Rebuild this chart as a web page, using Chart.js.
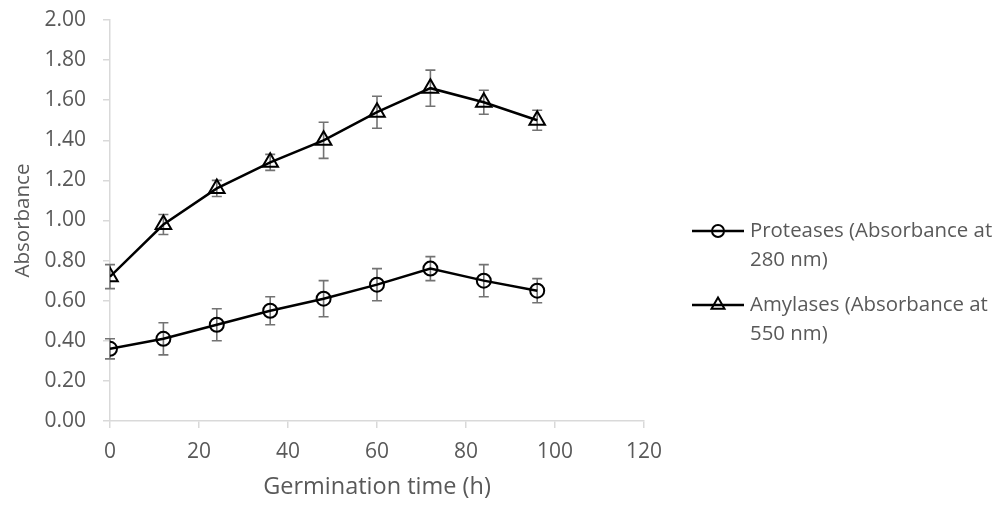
<!DOCTYPE html>
<html>
<head>
<meta charset="utf-8">
<script src="https://cdn.jsdelivr.net/npm/chart.js@4"></script>
<style>
    html, body { margin: 0; padding: 0; background: #ffffff; }
    #wrap { width: 1006px; height: 511px; }
</style>
</head>
<body>
<div id="wrap"><canvas id="chart" width="1006" height="511"></canvas></div>
<script>
// germination time (h)
const hours = [0, 12, 24, 36, 48, 60, 72, 84, 96];

// proteases, absorbance at 280 nm
const proteases = [0.36, 0.41, 0.48, 0.55, 0.61, 0.68, 0.76, 0.70, 0.65];
const proteasesErr = [0.05, 0.08, 0.08, 0.07, 0.09, 0.08, 0.06, 0.08, 0.06];

// amylases, absorbance at 550 nm
const amylases = [0.72, 0.98, 1.16, 1.29, 1.40, 1.54, 1.66, 1.59, 1.50];
const amylasesErr = [0.06, 0.05, 0.04, 0.04, 0.09, 0.08, 0.09, 0.06, 0.05];

const seriesLabels = [
    ['Proteases (Absorbance at', '280 nm)'],
    ['Amylases (Absorbance at', '550 nm)']
];

const FONT = '"Open Sans", Lato, sans-serif';
const TEXT = '#595959';
const AXIS = '#d9d9d9';

// 误差线，画在折线下面
const errorBars = {
    id: 'errorBars',
    beforeDatasetsDraw(chart) {
        const ctx = chart.ctx;
        const xs = chart.scales.x;
        const ys = chart.scales.y;
        ctx.save();
        ctx.strokeStyle = '#737373';
        ctx.lineWidth = 1.6;
        chart.data.datasets.forEach(ds => {
            ds.data.forEach((p, i) => {
                const e = ds.errors[i];
                const x = xs.getPixelForValue(p.x);
                const top = ys.getPixelForValue(p.y + e);
                const bot = ys.getPixelForValue(p.y - e);
                ctx.beginPath();
                ctx.moveTo(x, top);
                ctx.lineTo(x, bot);
                ctx.moveTo(x - 5, top);
                ctx.lineTo(x + 5, top);
                ctx.moveTo(x - 5, bot);
                ctx.lineTo(x + 5, bot);
                ctx.stroke();
            });
        });
        ctx.restore();
    }
};

// 右侧图例（线段 + 标记）
const sideLegend = {
    id: 'sideLegend',
    afterDraw(chart) {
        const ctx = chart.ctx;
        const rows = [231, 305];
        ctx.save();
        ctx.font = '20.4px ' + FONT;
        ctx.textBaseline = 'middle';
        chart.data.datasets.forEach((ds, i) => {
            const y = rows[i];
            ctx.strokeStyle = '#000';
            ctx.lineWidth = 2.5;
            ctx.beginPath();
            ctx.moveTo(692, y);
            ctx.lineTo(744, y);
            ctx.stroke();
            ctx.lineWidth = 2;
            ctx.fillStyle = 'rgba(0,0,0,0)';
            Chart.helpers.drawPoint(ctx, {
                pointStyle: ds.pointStyle,
                radius: ds.pointStyle === 'triangle' ? 7.5 : 6,
                borderWidth: 2
            }, 718, y);
            ctx.fillStyle = TEXT;
            ds.label.forEach((line, k) => {
                ctx.fillText(line, 750, y + k * 29);
            });
        });
        ctx.restore();
    }
};

function makeSeries(values, errs, label, style) {
    return {
        label: label,
        data: hours.map((h, i) => ({ x: h, y: values[i] })),
        errors: errs,
        borderColor: '#000000',
        borderWidth: 2.5,
        backgroundColor: 'rgba(0,0,0,0)',
        pointStyle: style,
        pointRadius: style === 'triangle' ? 9 : 7,
        pointBorderWidth: 2,
        pointBorderColor: '#000000',
        pointBackgroundColor: 'rgba(0,0,0,0)',
        tension: 0
    };
}

new Chart(document.getElementById('chart'), {
    type: 'line',
    data: {
        datasets: [
            makeSeries(proteases, proteasesErr, seriesLabels[0], 'circle'),
            makeSeries(amylases, amylasesErr, seriesLabels[1], 'triangle')
        ]
    },
    options: {
        responsive: false,
        animation: false,
        layout: { padding: { top: 20, right: 362, left: 7, bottom: 0 } },
        plugins: {
            legend: { display: false },
            tooltip: { enabled: false }
        },
        scales: {
            x: {
                type: 'linear',
                min: 0,
                max: 120,
                ticks: { stepSize: 20, color: TEXT, font: { family: FONT, size: 21 }, padding: 11 },
                grid: { drawOnChartArea: false, color: AXIS, tickLength: 7, lineWidth: 1.5 },
                border: { color: AXIS, width: 1.5 },
                title: {
                    display: true,
                    text: 'Germination time (h)',
                    color: TEXT,
                    font: { family: FONT, size: 23.5 },
                    padding: { top: 0, bottom: 10 }
                },
                afterFit(scale) {
                    scale.height = 90;
                    scale.paddingLeft = 0;
                    scale.paddingRight = 0;
                }
            },
            y: {
                min: 0,
                max: 2,
                ticks: {
                    stepSize: 0.2,
                    color: TEXT,
                    font: { family: FONT, size: 21 },
                    padding: 17,
                    callback: v => v.toFixed(2)
                },
                grid: { drawOnChartArea: false, color: AXIS, tickLength: 7, lineWidth: 1.5 },
                border: { color: AXIS, width: 1.5 },
                title: {
                    display: true,
                    text: 'Absorbance',
                    color: TEXT,
                    font: { family: FONT, size: 20.5 },
                    padding: { bottom: 0 }
                },
                afterFit(scale) {
                    scale.width = 103;
                    scale.paddingTop = 0;
                    scale.paddingBottom = 0;
                }
            }
        }
    },
    plugins: [errorBars, sideLegend]
});
</script>
</body>
</html>
